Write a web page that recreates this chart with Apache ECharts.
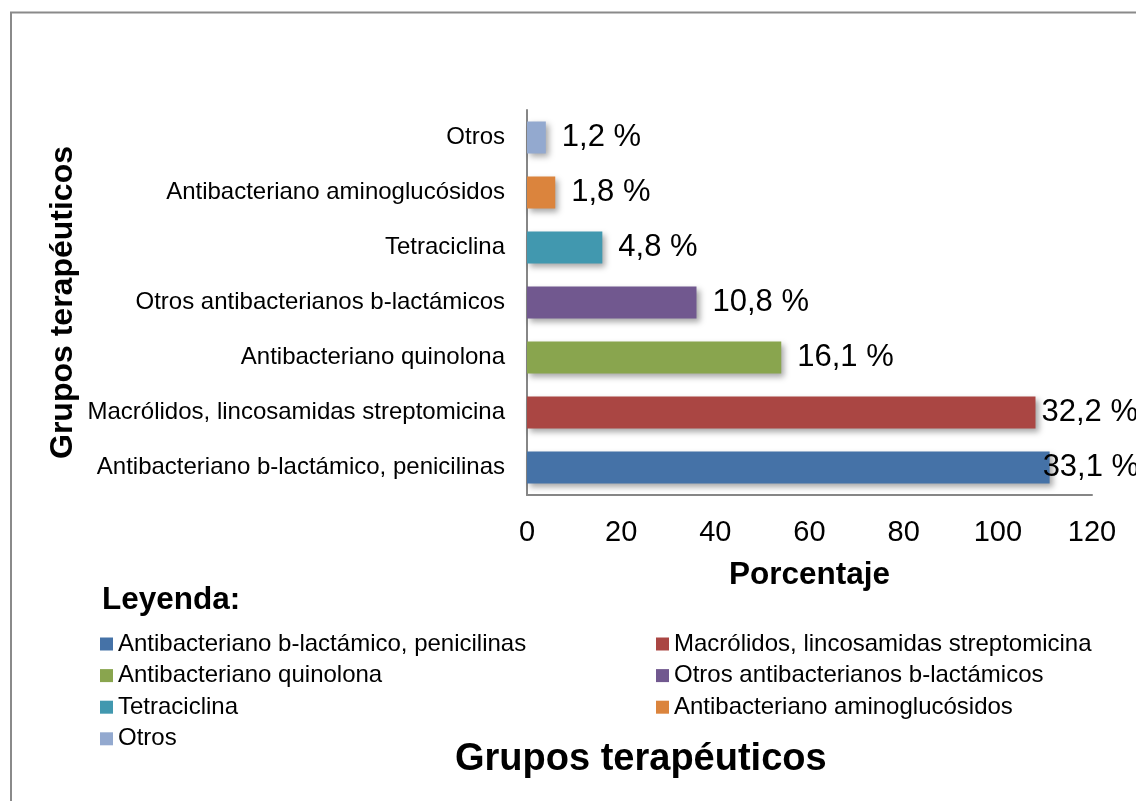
<!DOCTYPE html>
<html>
<head>
<meta charset="utf-8">
<script src="https://cdn.jsdelivr.net/npm/echarts@6/dist/echarts.min.js"></script>
<style>
  html, body { margin: 0; padding: 0; background: #fff; }
  #chart { width: 1136px; height: 801px; }
</style>
</head>
<body>
<div id="chart"></div>
<script>
  const categories = [
    'Antibacteriano b-lactámico, penicilinas',
    'Macrólidos, lincosamidas streptomicina',
    'Antibacteriano quinolona',
    'Otros antibacterianos b-lactámicos',
    'Tetraciclina',
    'Antibacteriano aminoglucósidos',
    'Otros'
  ];
  const counts = [111, 108, 54, 36, 16, 6, 4];
  const percents = [33.1, 32.2, 16.1, 10.8, 4.8, 1.8, 1.2];
  const colors = ['#4572A7', '#AA4643', '#89A54E', '#71588F', '#4198AF', '#DB843D', '#93A9CF'];

  const font = '"Liberation Sans", Arial, sans-serif';
  const chart = echarts.init(document.getElementById('chart'));

  // una serie por grupo para que la leyenda muestre cada categoría
  const series = categories.map(function (name, i) {
    return {
      name: name,
      type: 'bar',
      barWidth: 32,
      barGap: '-100%',
      data: categories.map(function (c, j) { return j === i ? counts[i] : '-'; }),
      itemStyle: {
        color: colors[i],
        shadowColor: 'rgba(0,0,0,0.35)',
        shadowBlur: 6,
        shadowOffsetX: 3,
        shadowOffsetY: 3
      },
      label: {
        show: true,
        position: 'right',
        distance: i === 0 ? -7 : (i === 1 ? 6 : 16),
        fontFamily: font,
        fontSize: 31,
        color: '#000',
        formatter: function () { return String(percents[i]).replace('.', ',') + ' %'; }
      },
      emphasis: { disabled: true }
    };
  });

  const legendText = { fontFamily: font, fontSize: 24, color: '#000' };

  const option = {
    animation: false,
    textStyle: { fontFamily: font },
    title: [
      {
        text: 'Leyenda:',
        left: 102,
        top: 584,
        padding: 0,
        textStyle: { fontFamily: font, fontSize: 31.5, fontWeight: 'bold', color: '#000' }
      },
      {
        text: 'Grupos terapéuticos',
        left: 455,
        top: 741,
        padding: 0,
        textStyle: { fontFamily: font, fontSize: 38, fontWeight: 'bold', color: '#000' }
      }
    ],
    legend: [
      {
        orient: 'vertical',
        left: 100,
        top: 632,
        padding: 0,
        itemGap: 7.6,
        itemWidth: 13,
        itemHeight: 13,
        icon: 'rect',
        selectedMode: false,
        textStyle: legendText,
        data: [categories[0], categories[2], categories[4], categories[6]]
      },
      {
        orient: 'vertical',
        left: 656,
        top: 632,
        padding: 0,
        itemGap: 7.6,
        itemWidth: 13,
        itemHeight: 13,
        icon: 'rect',
        selectedMode: false,
        textStyle: legendText,
        data: [categories[1], categories[3], categories[5]]
      }
    ],
    grid: {
      left: 527,
      right: 44,
      top: 110,
      bottom: 306,
      containLabel: false
    },
    xAxis: {
      type: 'value',
      min: 0,
      max: 120,
      interval: 20,
      name: 'Porcentaje',
      nameLocation: 'middle',
      nameGap: 64,
      nameTextStyle: { fontFamily: font, fontSize: 31.5, fontWeight: 'bold', color: '#000' },
      axisLine: { show: true, lineStyle: { color: '#868686', width: 2 } },
      axisTick: { show: false },
      splitLine: { show: false },
      axisLabel: { fontFamily: font, fontSize: 29, color: '#000', margin: 23 }
    },
    yAxis: {
      type: 'category',
      data: categories,
      name: 'Grupos terapéuticos',
      nameLocation: 'middle',
      nameGap: 448,
      nameTextStyle: { fontFamily: font, fontSize: 32, fontWeight: 'bold', color: '#000' },
      axisLine: { show: true, lineStyle: { color: '#868686', width: 2 } },
      axisTick: { show: false },
      axisLabel: { fontFamily: font, fontSize: 24, color: '#000', margin: 22 }
    },
    graphic: [
      {
        type: 'rect',
        silent: true,
        shape: { x: 11, y: 12.5, width: 1300, height: 1000 },
        style: { fill: 'none', stroke: '#8a8a8a', lineWidth: 2 }
      }
    ],
    series: series
  };

  chart.setOption(option);
</script>
</body>
</html>
